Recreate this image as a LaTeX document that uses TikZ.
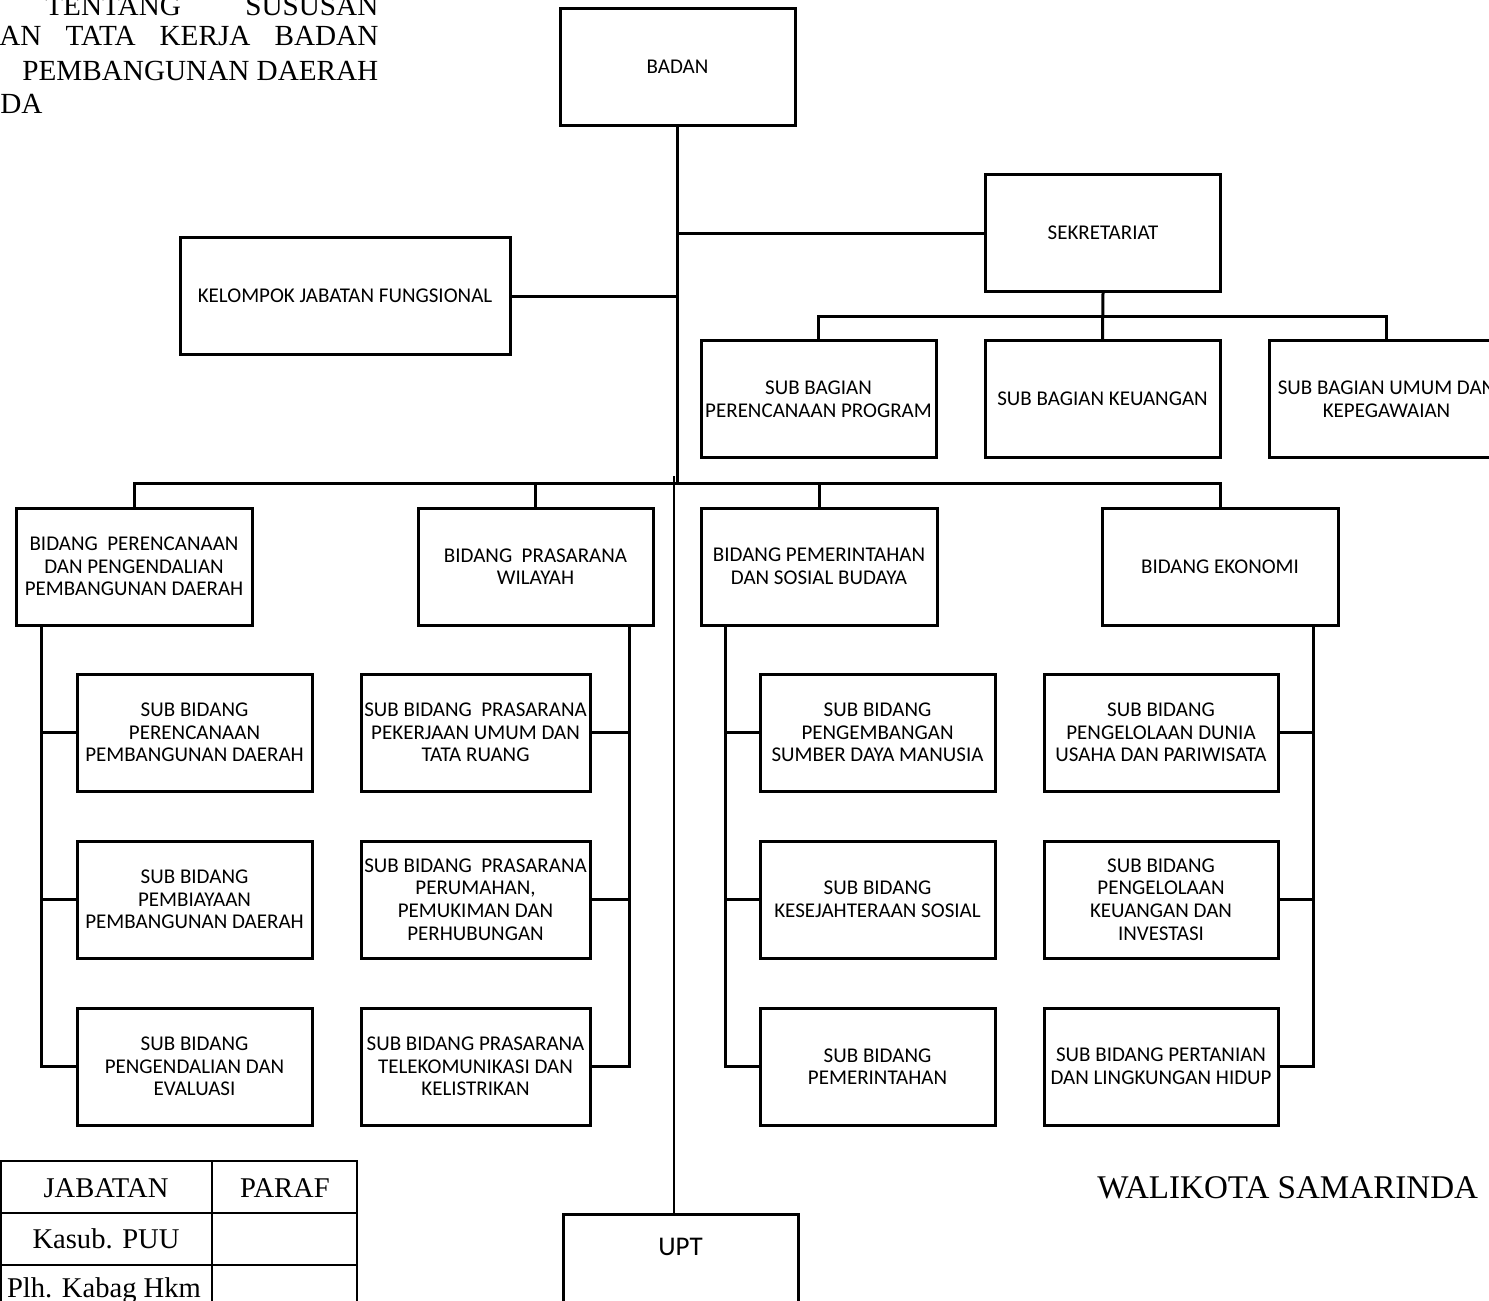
\documentclass[tikz,border=0pt]{standalone}
\usepackage{fontspec}
\setmainfont{Liberation Serif}
\newfontfamily\boxfont{Carlito}
\begin{document}
\begin{tikzpicture}[x=0.5pt,y=-0.5pt,
  box/.style={draw,line width=1.5pt,inner sep=0pt,align=center,
    font=\boxfont\fontsize{10.5}{11.3}\selectfont,
    minimum width=117.5pt,minimum height=58.5pt},
  conn/.style={line width=1.5pt},
  thinline/.style={line width=0.6pt},
  tline/.style={line width=1pt},
  serif/.style={inner sep=0pt,font=\fontsize{14.6}{16}\selectfont},
  ttext/.style={inner sep=0pt,font=\fontsize{14.3}{16}\selectfont}]
\useasboundingbox (0,0) rectangle (1489,1301);
\clip (0,0) rectangle (1489,1301);

% header text (cut by the page edge)
\node[serif,anchor=base west] (h1) at (45,16) {\hbox to 166.5pt{TENTANG\hfill SUSUSAN}};
\node[serif,anchor=base west] (h2) at (-1,45) {\hbox to 189.5pt{AN\hfill TATA\hfill KERJA\hfill BADAN}};
\node[serif,anchor=base west] (h3) at (22,80) {\hbox to 178pt{PEMBANGUNAN\hfill DAERAH}};
\node[serif,anchor=base west] (h4) at (0,113) {DA};

% top level
\node[box] (badan) at (677.5,66.5) {BADAN};
\node[box,minimum width=165pt] (kel) at (345,296) {KELOMPOK JABATAN FUNGSIONAL};
\node[box] (sek) at (1103,233) {SEKRETARIAT};
\node[box] (sb1) at (818.5,399) {SUB BAGIAN\\PERENCANAAN PROGRAM};
\node[box] (sb2) at (1102.5,399) {SUB BAGIAN KEUANGAN};
\node[box] (sb3) at (1386.5,399) {SUB BAGIAN UMUM DAN\\KEPEGAWAIAN};

% bidang
\node[box,minimum width=118pt] (b1) at (134,566.5) {BIDANG\ \ PERENCANAAN\\DAN PENGENDALIAN\\PEMBANGUNAN DAERAH};
\node[box] (b2) at (535.5,566.5) {BIDANG\ \ PRASARANA\\WILAYAH};
\node[box,minimum width=118pt] (b3) at (819,566.5) {BIDANG PEMERINTAHAN\\DAN SOSIAL BUDAYA};
\node[box,minimum width=118pt] (b4) at (1220,566.5) {BIDANG EKONOMI};

% sub bidang column 1
\node[box] (s11) at (194.5,732.5) {SUB BIDANG\\PERENCANAAN\\PEMBANGUNAN DAERAH};
\node[box] (s12) at (194.5,899.5) {SUB BIDANG\\PEMBIAYAAN\\PEMBANGUNAN DAERAH};
\node[box] (s13) at (194.5,1066.5) {SUB BIDANG\\PENGENDALIAN DAN\\EVALUASI};
% column 2
\node[box,minimum width=114.5pt] (s21) at (475.5,732.5) {SUB BIDANG\ \ PRASARANA\\PEKERJAAN UMUM DAN\\TATA RUANG};
\node[box,minimum width=114.5pt] (s22) at (475.5,899.5) {SUB BIDANG\ \ PRASARANA\\PERUMAHAN,\\PEMUKIMAN DAN\\PERHUBUNGAN};
\node[box,minimum width=114.5pt] (s23) at (475.5,1066.5) {SUB BIDANG PRASARANA\\TELEKOMUNIKASI DAN\\KELISTRIKAN};
% column 3
\node[box] (s31) at (877.5,732.5) {SUB BIDANG\\PENGEMBANGAN\\SUMBER DAYA MANUSIA};
\node[box] (s32) at (877.5,899.5) {SUB BIDANG\\KESEJAHTERAAN SOSIAL};
\node[box] (s33) at (877.5,1066.5) {SUB BIDANG\\PEMERINTAHAN};
% column 4
\node[box,minimum width=117pt] (s41) at (1161,732.5) {SUB BIDANG\\PENGELOLAAN DUNIA\\USAHA DAN PARIWISATA};
\node[box,minimum width=117pt] (s42) at (1161,899.5) {SUB BIDANG\\PENGELOLAAN\\KEUANGAN DAN\\INVESTASI};
\node[box,minimum width=117pt] (s43) at (1161,1066.5) {SUB BIDANG PERTANIAN\\DAN LINGKUNGAN HIDUP};

% UPT
\node[draw,line width=1.5pt,inner sep=0pt,minimum width=117.5pt,
  text height=20.5pt,text depth=38pt,anchor=north,
  font=\boxfont\fontsize{13.5}{15}\selectfont] (upt) at (680.5,1213) {UPT};

% connectors
\coordinate (bar) at (0,483);
\coordinate (sbar) at (0,316);
\draw[conn] (badan.south) -- (badan.south |- bar);
\draw[conn] (kel.east) -- (kel.east -| badan.south);
\draw[conn] (sek.west) -- (sek.west -| badan.south);
\draw[conn] (sek.south) -- (sb2.north);
\draw[conn] (sb1.north) -- (sb1.north |- sbar) -| (sb3.north);
\draw[conn] (b1.north) -- (b1.north |- bar) -| (b4.north);
\draw[conn] (b2.north) -- (b2.north |- bar);
\draw[conn] (b3.north) -- (b3.north |- bar);
\coordinate (tt) at (674,476);
\draw[thinline] (tt) -- (tt |- upt.north);

\coordinate (c1) at (41,625);
\draw[conn] (c1) |- (s13.west);
\draw[conn] (s11.west -| c1) -- (s11.west);
\draw[conn] (s12.west -| c1) -- (s12.west);
\coordinate (c2) at (629,625);
\draw[conn] (c2) |- (s23.east);
\draw[conn] (s21.east -| c2) -- (s21.east);
\draw[conn] (s22.east -| c2) -- (s22.east);
\coordinate (c3) at (725,625);
\draw[conn] (c3) |- (s33.west);
\draw[conn] (s31.west -| c3) -- (s31.west);
\draw[conn] (s32.west -| c3) -- (s32.west);
\coordinate (c4) at (1313,625);
\draw[conn] (c4) |- (s43.east);
\draw[conn] (s41.east -| c4) -- (s41.east);
\draw[conn] (s42.east -| c4) -- (s42.east);

% signature
\node[inner sep=0pt,anchor=base west,font=\fontsize{16.55}{18}\selectfont] (wali) at (1097,1198) {WALIKOTA SAMARINDA};

% table
\draw[tline] (1,1310) |- (357,1161) -- (357,1310);
\draw[tline] (212,1161) -- (212,1310);
\draw[tline] (1,1213) -- (357,1213);
\draw[tline] (1,1265) -- (357,1265);
\node[ttext] (tj) at (106,1188) {JABATAN};
\node[ttext] (tp) at (285,1188) {PARAF};
\node[ttext] (tk) at (106,1239) {Kasub. PUU};
\node[ttext] (tl) at (104,1291) {Plh. Kabag Hkm};
\end{tikzpicture}
\end{document}
